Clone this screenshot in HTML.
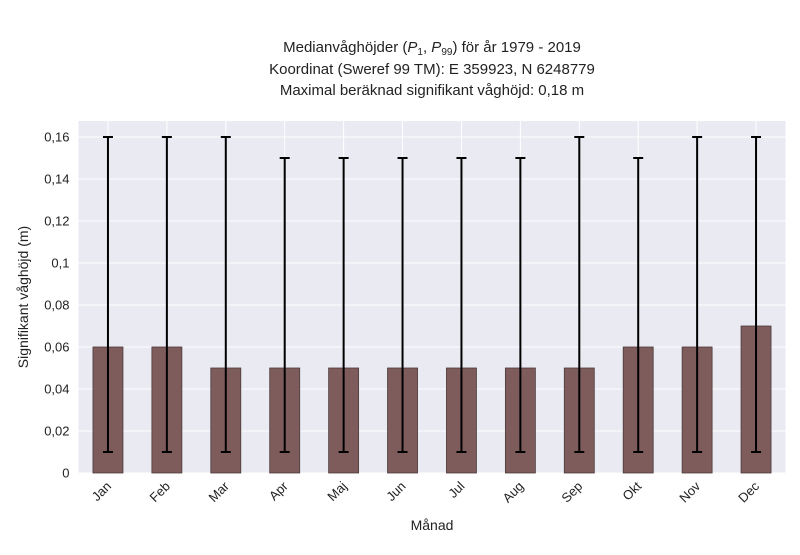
<!DOCTYPE html>
<html><head><meta charset="utf-8"><style>
body{margin:0;background:#fff;font-family:"Liberation Sans",sans-serif}
</style></head><body>
<svg id="chart" width="800" height="550" xmlns="http://www.w3.org/2000/svg" font-family="Liberation Sans, sans-serif">
<g font-size="15" fill="#222" text-anchor="middle">
<text x="432" y="52">Medianvåghöjder (<tspan font-style="italic">P</tspan><tspan font-size="10" dy="3">1</tspan><tspan dy="-3">, </tspan><tspan font-style="italic">P</tspan><tspan font-size="10" dy="3">99</tspan><tspan dy="-3">) för år 1979 - 2019</tspan></text>
<text x="432" y="74">Koordinat (Sweref 99 TM): E 359923, N 6248779</text>
<text x="432" y="95">Maximal beräknad signifikant våghöjd: 0,18 m</text>
</g>
<rect x="78.5" y="121" width="707" height="352" fill="#eaeaf2"/>
<g id="grid"></g>
<g id="bars"></g>
<g id="yticks" font-size="13" fill="#222" text-anchor="end"></g>
<g id="xticks" font-size="13" fill="#222"></g>
<text x="28" y="297" font-size="14" fill="#222" text-anchor="middle" transform="rotate(-90 28 297)">Signifikant våghöjd (m)</text>
<text x="432" y="530" font-size="14" fill="#222" text-anchor="middle">Månad</text>
</svg>
<script>
const months=["Jan","Feb","Mar","Apr","Maj","Jun","Jul","Aug","Sep","Okt","Nov","Dec"];
const median=[0.06,0.06,0.05,0.05,0.05,0.05,0.05,0.05,0.05,0.06,0.06,0.07];
const p1=[0.01,0.01,0.01,0.01,0.01,0.01,0.01,0.01,0.01,0.01,0.01,0.01];
const p99=[0.16,0.16,0.16,0.15,0.15,0.15,0.15,0.15,0.16,0.15,0.16,0.16];
const yTicks=[0,0.02,0.04,0.06,0.08,0.1,0.12,0.14,0.16];
const yTickLabels=["0","0,02","0,04","0,06","0,08","0,1","0,12","0,14","0,16"];
const NS="http://www.w3.org/2000/svg";
const L=78.5,R=785.5,T=121,B=473,yMax=0.16762;
const xs=i=>L+(i+0.5)*(R-L)/months.length;
const ys=v=>B-v/yMax*(B-T);
function mk(t,a,p){const e=document.createElementNS(NS,t);for(const k in a)e.setAttribute(k,a[k]);p.appendChild(e);return e;}
const grid=document.getElementById('grid'),bars=document.getElementById('bars'),yt=document.getElementById('yticks'),xt=document.getElementById('xticks');
yTicks.forEach((v,i)=>{
 const l=mk('line',{x1:L,x2:R,y1:ys(v),y2:ys(v),stroke:'#fff','stroke-width':1},grid);
 
 
 const t=mk('text',{x:L-9,y:ys(v)+4.5},yt);t.textContent=yTickLabels[i];
 
 
});
months.forEach((m,i)=>{
 const l=mk('line',{x1:xs(i),x2:xs(i),y1:T,y2:B,stroke:'#fff','stroke-width':1},grid);
 
 
 const bw=30,x=xs(i);
 const r=mk('rect',{x:x-bw/2,y:ys(median[i]),width:bw,height:B-ys(median[i]),fill:'#7f5c5c',stroke:'#4a3a3a','stroke-width':0.8},bars);
 
 
 const g=mk('g',{stroke:'#000','stroke-width':2},bars);
 
 
 mk('line',{x1:x,x2:x,y1:ys(p1[i]),y2:ys(p99[i])},g);
 mk('line',{x1:x-5,x2:x+5,y1:ys(p1[i]),y2:ys(p1[i])},g);
 mk('line',{x1:x-5,x2:x+5,y1:ys(p99[i]),y2:ys(p99[i])},g);
 const t=mk('text',{x:x+4,y:B+14,'text-anchor':'end',transform:`rotate(-45 ${x+4} ${B+14})`},xt);
 t.textContent=m;
 
 
});
</script>
</body></html>
